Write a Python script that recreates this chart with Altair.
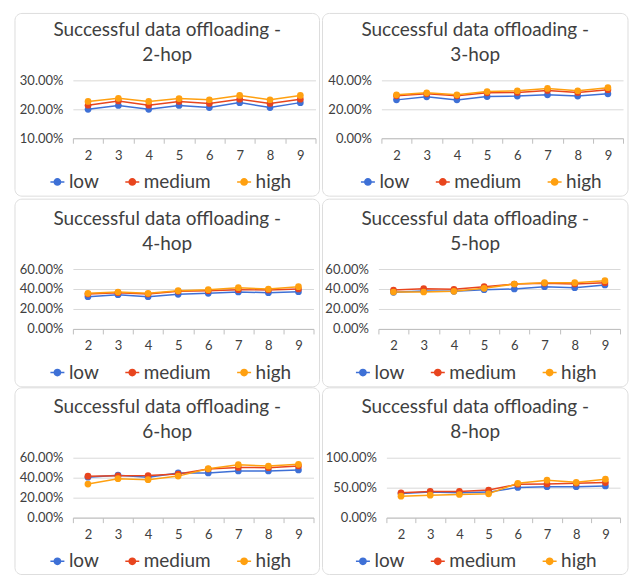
import altair as alt
import pandas as pd

x_values = [2, 3, 4, 5, 6, 7, 8, 9]
levels = ["low", "medium", "high"]
colors = ["#3E70D6", "#E8451E", "#FFA010"]

low_2 = [20.0, 21.3, 20.0, 21.3, 20.6, 22.3, 20.6, 22.3]
medium_2 = [21.4, 22.9, 21.4, 22.7, 22.0, 23.5, 22.0, 23.5]
high_2 = [22.7, 23.8, 22.7, 23.7, 23.3, 24.8, 23.3, 24.8]

low_3 = [26.5, 28.6, 26.5, 28.8, 29.1, 30.0, 29.1, 30.7]
medium_3 = [29.3, 30.7, 29.3, 31.4, 31.6, 33.0, 31.6, 33.5]
high_3 = [30.0, 31.4, 30.0, 32.3, 32.8, 34.4, 32.8, 34.9]

low_4 = [32.3, 34.3, 32.3, 34.7, 35.7, 37.0, 36.3, 37.3]
medium_4 = [35.0, 36.3, 35.0, 37.7, 38.3, 39.3, 39.0, 40.0]
high_4 = [35.7, 37.0, 35.7, 38.3, 39.3, 41.3, 40.0, 42.3]

low_5 = [36.7, 38.0, 37.7, 39.3, 40.0, 42.3, 41.3, 44.0]
medium_5 = [39.0, 40.3, 39.7, 42.3, 45.0, 45.7, 45.0, 46.3]
high_5 = [37.0, 37.0, 37.7, 40.7, 45.0, 46.3, 46.3, 48.3]

low_6 = [40.5, 42.5, 40.5, 44.8, 44.8, 46.8, 46.8, 47.8]
medium_6 = [41.5, 41.9, 42.2, 43.6, 48.6, 50.3, 50.0, 51.7]
high_6 = [33.6, 39.0, 38.0, 41.6, 49.0, 53.0, 51.7, 53.4]

low_8 = [40.3, 42.6, 41.5, 42.6, 50.5, 51.7, 51.7, 52.8]
medium_8 = [41.5, 43.8, 43.8, 46.0, 55.7, 56.3, 57.4, 58.5]
high_8 = [35.8, 37.5, 38.6, 39.8, 57.4, 62.5, 59.0, 64.2]

series = {
    2: (low_2, medium_2, high_2),
    3: (low_3, medium_3, high_3),
    4: (low_4, medium_4, high_4),
    5: (low_5, medium_5, high_5),
    6: (low_6, medium_6, high_6),
    8: (low_8, medium_8, high_8),
}
y_domains = {2: [0.1, 0.3], 3: [0, 0.4], 4: [0, 0.6], 5: [0, 0.6], 6: [0, 0.6], 8: [0, 1.0]}
y_ticks = {2: [0.1, 0.2, 0.3], 3: [0, 0.2, 0.4], 4: [0, 0.2, 0.4, 0.6],
           5: [0, 0.2, 0.4, 0.6], 6: [0, 0.2, 0.4, 0.6], 8: [0, 0.5, 1.0]}

rows = []
for hop, vals in series.items():
    for lev, arr in zip(levels, vals):
        for xv, v in zip(x_values, arr):
            rows.append({"hop": hop, "x": xv, "level": lev, "value": v / 100})
df = pd.DataFrame(rows)

FONT = "Lato"
SYMBOL = "M-1,0L1,0M-0.45,0A0.45,0.45,0,1,0,0.45,0A0.45,0.45,0,1,0,-0.45,0Z"


def panel(hop, w, h, legend_x, box):
    x = alt.X("x:O", title=None,
              scale=alt.Scale(type="band", paddingInner=0, paddingOuter=0),
              axis=alt.Axis(labelAngle=0, tickBand="extent", domainColor="#BFBFBF",
                            tickColor="#BFBFBF", tickSize=5, labelPadding=6,
                            labelFontSize=13, labelColor="#404040", labelFont=FONT,
                            grid=False))
    y = alt.Y("value:Q", title=None,
              scale=alt.Scale(domain=y_domains[hop], nice=False, zero=False),
              axis=alt.Axis(values=y_ticks[hop], format=".2%", domain=False, ticks=False,
                            labelPadding=10, labelFontSize=13, labelColor="#404040",
                            labelFont=FONT, gridColor="#D9D9D9"))
    col = alt.Color("level:N", scale=alt.Scale(domain=levels, range=colors),
                    legend=alt.Legend(title=None, orient="none", direction="horizontal",
                                      legendX=legend_x, legendY=h + 34,
                                      symbolType=SYMBOL, symbolSize=196,
                                      symbolStrokeWidth=1.5, labelFontSize=19,
                                      labelFont=FONT, labelColor="#404040",
                                      labelOffset=2, columnPadding=22))
    frame = alt.Chart(pd.DataFrame({"k": [0]})).mark_rect(
        fill="transparent", stroke="#DDDDDD", strokeWidth=1, cornerRadius=7
    ).encode(x=alt.value(box[0]), x2=alt.value(w + box[1]),
             y=alt.value(box[2]), y2=alt.value(h + box[3]))
    base = alt.Chart(df[df.hop == hop]).encode(x=x, y=y, color=col)
    line = base.mark_line(strokeWidth=1.5)
    pts = base.mark_point(filled=True, size=45, opacity=1)
    return alt.layer(frame, line, pts).properties(
        width=w, height=h,
        title=alt.TitleParams(["Successful data offloading -", f"{hop}-hop"],
                              frame="bounds", anchor="middle", fontSize=19,
                              font=FONT, fontWeight="normal", color="#404040",
                              lineHeight=25, offset=box[2] + 15),
    )


def row(a, b, sp):
    return alt.hconcat(a, b, spacing=sp, bounds="flush").resolve_scale(
        color="independent", x="independent", y="independent").resolve_legend(
        color="independent")


chart = alt.vconcat(
    row(panel(2, 243, 58, -25, (-58, 4, -67, 58)),
        panel(3, 242, 58, -23, (-59, 5, -67, 58)), 66),
    row(panel(4, 241, 60, -25, (-58, 6, -70, 58)),
        panel(5, 242, 60, -25, (-56, 8, -70, 58)), 65),
    row(panel(6, 241, 60, -25, (-58, 6, -70, 57)),
        panel(8, 234, 60, -33, (-64, 8, -70, 57)), 73),
    spacing=189, bounds="flush",
).resolve_scale(color="independent", x="independent", y="independent").resolve_legend(
    color="independent").properties(
    padding={"left": 14, "top": 12, "right": 2, "bottom": 2},
    background="white",
).configure_view(stroke=None)

chart.save("out.html", embed_options={"renderer": "svg", "actions": False})
